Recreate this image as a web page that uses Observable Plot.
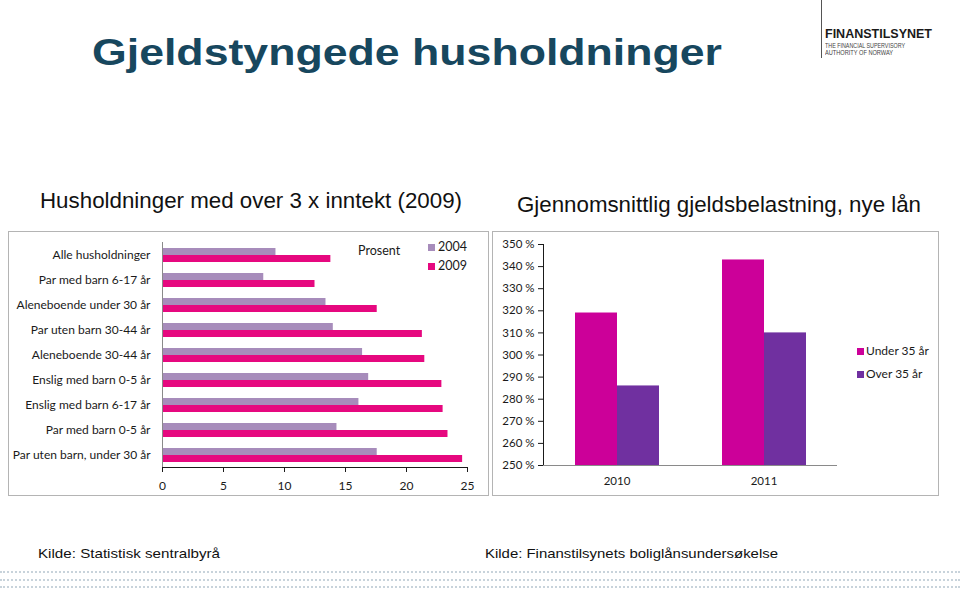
<!DOCTYPE html>
<html>
<head>
<meta charset="utf-8">
<script src="https://cdn.jsdelivr.net/npm/d3@7"></script>
<script src="https://cdn.jsdelivr.net/npm/@observablehq/plot@0.6"></script>
<style>
  body { margin: 0; background: #fff; }
  #root { position: relative; width: 960px; height: 592px; overflow: hidden; background: #fff;
          font-family: "Liberation Sans", Arial, sans-serif; }
  .abs { position: absolute; white-space: nowrap; line-height: 1; }
  .panel { position: absolute; border: 1px solid #b4b4b4; box-sizing: border-box; }
  .dots { position: absolute; left: 0; width: 960px; height: 0; border-top: 2px dotted #c8d3db; }
  .sw { position: absolute; width: 7px; height: 7px; }
  .lg { position: absolute; font-family: Lato, "Open Sans", sans-serif; font-size: 12.5px; color: #1a1a1a; line-height: 1; white-space: nowrap; }
</style>
</head>
<body>
<div id="root">
  <div class="abs fit" data-w="630" style="left:92px;top:35px;font-size:36px;font-weight:bold;color:#17475e;">Gjeldstyngede husholdninger</div>

  <div style="position:absolute;left:821px;top:0;width:1px;height:58px;background:#555;"></div>
  <div class="abs fit" data-w="107" style="left:825px;top:28.4px;font-size:12.5px;font-weight:bold;color:#1a1a1a;">FINANSTILSYNET</div>
  <div class="abs fit" data-w="80" style="left:825px;top:42px;font-size:7px;color:#444;">THE FINANCIAL SUPERVISORY</div>
  <div class="abs fit" data-w="68" style="left:825px;top:49px;font-size:7px;color:#444;">AUTHORITY OF NORWAY</div>

  <div class="abs fit" data-w="422" style="left:40px;top:191px;font-size:21.5px;color:#111;">Husholdninger med over 3 x inntekt (2009)</div>
  <div class="abs fit" data-w="404" style="left:517px;top:194px;font-size:22px;color:#111;">Gjennomsnittlig gjeldsbelastning, nye lån</div>

  <div class="panel" style="left:8px;top:231px;width:481px;height:265px;"></div>
  <div class="panel" style="left:492px;top:231px;width:447px;height:265px;"></div>

  <div id="left" style="position:absolute;left:0;top:230px;"></div>
  <div id="right" style="position:absolute;left:490px;top:230px;"></div>

  <div class="abs fit" data-w="182" style="left:38px;top:547.2px;font-size:13.5px;color:#111;">Kilde: Statistisk sentralbyrå</div>
  <div class="abs fit" data-w="293" style="left:485px;top:547.2px;font-size:13.5px;color:#111;">Kilde: Finanstilsynets boliglånsundersøkelse</div>

  <div class="dots" style="top:571px;"></div>
  <div class="dots" style="top:578.5px;"></div>
  <div class="dots" style="top:586px;"></div>
</div>
<script>
// ---------- Left chart data ----------
const categories = [
  "Alle husholdninger",
  "Par med barn 6-17 år",
  "Aleneboende under 30 år",
  "Par uten barn 30-44 år",
  "Aleneboende 30-44 år",
  "Enslig med barn 0-5 år",
  "Enslig med barn 6-17 år",
  "Par med barn 0-5 år",
  "Par uten barn, under 30 år"
];
const values2004 = [9.3, 8.3, 13.4, 14.0, 16.4, 16.9, 16.1, 14.3, 17.6];
const values2009 = [13.8, 12.5, 17.6, 21.3, 21.5, 22.9, 23.0, 23.4, 24.6];
const leftSeries = ["2004", "2009"];
const leftColors = ["#a78cbb", "#e6087f"];
const xTicks = [0, 5, 10, 15, 20, 25];
const leftNote = "Prosent";

// ---------- Right chart data ----------
const years = ["2010", "2011"];
const under35 = [319, 343];
const over35 = [286, 310];
const rightSeries = ["Under 35 år", "Over 35 år"];
const rightColors = ["#cc0099", "#7030a0"];
const yTicks = [250, 260, 270, 280, 290, 300, 310, 320, 330, 340, 350];
const yBase = 250;

const axisColor = "#8a8a8a";
const tickFont = 'Lato, "Open Sans", sans-serif';

// Left: grouped horizontal bars
const leftData = categories.flatMap((c, i) => [
  {cat: c, series: leftSeries[0], v: values2004[i]},
  {cat: c, series: leftSeries[1], v: values2009[i]}
]);

const leftPlot = Plot.plot({
  width: 490, height: 270,
  marginLeft: 162, marginRight: 23, marginTop: 10, marginBottom: 32,
  style: {fontFamily: tickFont, fontSize: "12px", color: "#1a1a1a", background: "transparent", overflow: "visible"},
  fy: {domain: categories, padding: 0, label: null, axis: "left", tickSize: 0, tickPadding: 12},
  y: {domain: leftSeries, paddingInner: 0, paddingOuter: 0.64, axis: null},
  x: {domain: [0, 25], ticks: xTicks, tickSize: 5, tickPadding: 9, label: null, line: true},
  color: {domain: leftSeries, range: leftColors},
  marks: [
    Plot.barX(leftData, {fy: "cat", y: "series", x: "v", fill: "series"}),
    Plot.ruleX([0], {stroke: axisColor})
  ]
});
document.getElementById("left").appendChild(leftPlot);

// Right: grouped vertical bars
const rightData = years.flatMap((yr, i) => [
  {year: yr, series: rightSeries[0], v: under35[i]},
  {year: yr, series: rightSeries[1], v: over35[i]}
]);

const rightPlot = Plot.plot({
  width: 450, height: 270,
  marginLeft: 52, marginRight: 103, marginTop: 14, marginBottom: 35,
  style: {fontFamily: tickFont, fontSize: "11.5px", color: "#1a1a1a", background: "transparent", overflow: "visible"},
  fx: {domain: years, padding: 0, label: null, axis: "bottom", tickSize: 0, tickPadding: 11},
  x: {domain: rightSeries, paddingInner: 0, paddingOuter: 0.75, axis: null},
  y: {domain: [yBase, 350], ticks: yTicks, tickFormat: d => d + " %", tickSize: 5, tickPadding: 4, label: null, line: true},
  color: {domain: rightSeries, range: rightColors},
  marks: [
    Plot.barY(rightData, {fx: "year", x: "series", y1: yBase, y2: "v", fill: "series"}),
    Plot.ruleY([yBase], {stroke: axisColor})
  ]
});
document.getElementById("right").appendChild(rightPlot);

// Axis lines / ticks colour
document.querySelectorAll("#left svg [aria-label$='tick'], #right svg [aria-label$='tick'], #left svg [aria-label$='axis line'], #right svg [aria-label$='axis line']").forEach(g => {
  g.setAttribute("stroke", axisColor);
});

// Legends (HTML text)
const root = document.getElementById("root");
function addSwatch(x, y, color) {
  const d = document.createElement("div");
  d.className = "sw"; d.style.left = x + "px"; d.style.top = y + "px"; d.style.background = color;
  root.appendChild(d);
}
function addLabel(x, y, text, size) {
  const d = document.createElement("div");
  d.className = "lg"; d.style.left = x + "px"; d.style.top = y + "px"; d.textContent = text;
  if (size) d.style.fontSize = size + "px";
  root.appendChild(d);
}
addLabel(358, 245, leftNote);
addSwatch(428, 244, leftColors[0]); addLabel(438, 241, leftSeries[0]);
addSwatch(428, 263, leftColors[1]); addLabel(438, 260, leftSeries[1]);
addSwatch(857, 348, rightColors[0]); addLabel(866, 345, rightSeries[0], 12);
addSwatch(857, 371, rightColors[1]); addLabel(866, 368, rightSeries[1], 12);

// Fit the slide texts horizontally to the reference widths
document.querySelectorAll(".fit").forEach(el => {
  const w = el.getBoundingClientRect().width;
  const target = +el.dataset.w;
  el.style.transformOrigin = "0 0";
  el.style.transform = `scaleX(${target / w})`;
});
</script>
</body>
</html>
